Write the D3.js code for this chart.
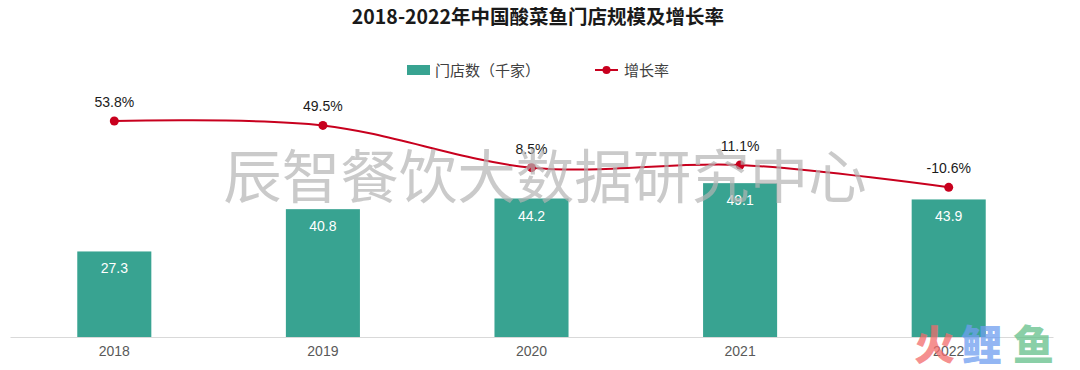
<!DOCTYPE html>
<html>
<head>
<meta charset="utf-8">
<script src="https://cdn.jsdelivr.net/npm/d3@7"></script>
<style>
  body { margin: 0; background: #fff; }
  svg { display: block; font-family: "Liberation Sans", Arial, "Noto Sans CJK SC", sans-serif; }
</style>
</head>
<body>
<div id="chart"></div>
<script>
// data
const years = ["2018", "2019", "2020", "2021", "2022"]
const stores = [27.3, 40.8, 44.2, 49.1, 43.9]
const growth = [53.8, 49.5, 8.5, 11.1, -10.6]

const width = 1080, height = 370
const svg = d3.select("#chart").append("svg")
    .attr("width", width)
    .attr("height", height)

const cjk = '"Noto Sans CJK SC", sans-serif'

// scales
const x = d3.scaleBand().domain(years).range([10, 1053]).paddingInner(0.645).paddingOuter(0.3225)
const yBar = d3.scaleLinear().domain([0, 60]).range([337, 149])
const yLine = d3.scaleLinear().domain([-20, 60]).range([197, 114.6])
const cx = d => x(d) + x.bandwidth() / 2

// title
svg.append("text")
    .attr("x", 538).attr("y", 24)
    .attr("text-anchor", "middle")
    .style("font-family", cjk)
    .style("font-weight", "bold")
    .style("font-size", "19.5px")
    .attr("fill", "#1a1a1a")
    .text("2018-2022年中国酸菜鱼门店规模及增长率")

// legend
const legend = svg.append("g").style("font-family", cjk).style("font-size", "15px").attr("fill", "#404040")
legend.append("rect").attr("x", 407).attr("y", 65).attr("width", 23).attr("height", 10).attr("fill", "#38a391")
legend.append("text").attr("x", 435).attr("y", 75.5).text("门店数（千家）")
legend.append("line").attr("x1", 595).attr("x2", 618).attr("y1", 70).attr("y2", 70)
    .attr("stroke", "#c8001e").attr("stroke-width", 2)
legend.append("circle").attr("cx", 606.5).attr("cy", 70).attr("r", 4).attr("fill", "#c8001e")
legend.append("text").attr("x", 624).attr("y", 75.5).text("增长率")

// axis
const xAxis = svg.append("g")
    .attr("transform", "translate(0,337)")
    .call(d3.axisBottom(x).tickSize(0).tickPadding(9))
xAxis.select(".domain").attr("stroke", "#d9d9d9").attr("stroke-width", 1.2)
xAxis.selectAll("text").attr("fill", "#595959").style("font-size", "14px")

// bars
svg.append("g").selectAll("rect")
    .data(stores)
    .enter().append("rect")
    .attr("x", (d, i) => x(years[i]))
    .attr("y", d => yBar(d))
    .attr("width", x.bandwidth())
    .attr("height", d => yBar(0) - yBar(d))
    .attr("fill", "#38a391")

svg.append("g").selectAll("text")
    .data(stores)
    .enter().append("text")
    .attr("x", (d, i) => cx(years[i]))
    .attr("y", d => yBar(d) + 22)
    .attr("text-anchor", "middle")
    .attr("fill", "#fff")
    .style("font-size", "14px")
    .text(d => d.toFixed(1))

// growth line
const line = d3.line()
    .x((d, i) => cx(years[i]))
    .y(d => yLine(d))
    .curve(d3.curveCardinal.tension(0))

svg.append("path")
    .datum(growth)
    .attr("d", line)
    .attr("fill", "none")
    .attr("stroke", "#c8001e")
    .attr("stroke-width", 2)

svg.append("g").selectAll("circle")
    .data(growth)
    .enter().append("circle")
    .attr("cx", (d, i) => cx(years[i]))
    .attr("cy", d => yLine(d))
    .attr("r", 4.5)
    .attr("fill", "#c8001e")

svg.append("g").selectAll("text")
    .data(growth)
    .enter().append("text")
    .attr("x", (d, i) => cx(years[i]))
    .attr("y", d => yLine(d) - 14)
    .attr("text-anchor", "middle")
    .attr("fill", "#1a1a1a")
    .style("font-size", "14px")
    .text(d => d.toFixed(1) + "%")

// watermarks
svg.append("text")
    .attr("x", 545).attr("y", 198)
    .attr("text-anchor", "middle")
    .style("font-family", cjk)
    .style("font-weight", 400)
    .style("font-size", "58.5px")
    .attr("fill", "#b4b4b4")
    .attr("fill-opacity", 0.7)
    .text("辰智餐饮大数据研究中心")

const logo = svg.append("g").style("font-family", cjk).style("font-weight", 900).style("font-size", "41px").attr("fill-opacity", 0.75)
logo.append("text").attr("x", 914).attr("y", 360).attr("fill", "#f26b6b").text("火")
logo.append("text").attr("x", 961).attr("y", 360).attr("fill", "#6f9ef0").text("鲤")
logo.append("text").attr("x", 1013).attr("y", 360).attr("fill", "#64c08a").text("鱼")
</script>
</body>
</html>
